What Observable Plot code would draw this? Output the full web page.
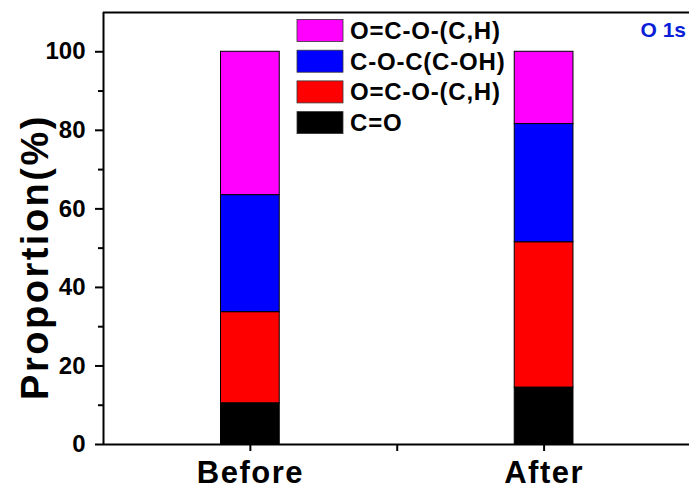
<!DOCTYPE html>
<html>
<head>
<meta charset="utf-8">
<script src="https://cdn.jsdelivr.net/npm/d3@7"></script>
<script src="https://cdn.jsdelivr.net/npm/@observablehq/plot@0.6"></script>
<style>
  html, body { margin: 0; padding: 0; background: #ffffff; }
  svg { display: block; }
</style>
</head>
<body>
<div id="chart"></div>
<script>
// ---- data ----
const samples = ["Before", "After"];
const samplePositions = [1, 3];
const components = ["C=O", "O=C-O-(C,H)", "C-O-C(C-OH)", "O=C-O-(C,H)"];
const componentColors = ["#000000", "#ff0000", "#0000ff", "#ff00ff"];
const beforeValues = [10.5, 23.2, 29.8, 36.5];
const afterValues = [14.5, 37.0, 30.1, 18.4];
const yMajorTicks = [0, 20, 40, 60, 80, 100];
const yMinorTicks = [10, 30, 50, 70, 90];
const xTicks = [1, 2, 3];
const xTickLabels = ["Before", "", "After"];
const yLabel = "Proportion(%)";
const panelTitle = "O 1s";

// ---- build stacked rows ----
const seriesValues = [beforeValues, afterValues];
const rows = [];
samples.forEach((s, i) => {
  let acc = 0;
  seriesValues[i].forEach((v, j) => {
    rows.push({sample: s, pos: samplePositions[i], comp: components[j], color: componentColors[j], y1: acc, y2: acc + v});
    acc += v;
  });
});

const font = "'Liberation Sans', Arial, sans-serif";

const chart = Plot.plot({
  width: 689,
  height: 489,
  marginLeft: 103,
  marginTop: 12,
  marginBottom: 45,
  marginRight: 0,
  style: {fontFamily: font, background: "transparent", color: "#000"},
  x: {domain: [0, 3.99]},
  y: {domain: [0, 110]},
  color: {type: "identity"},
  marks: [
    Plot.rectY(rows, {x1: d => d.pos - 0.2, x2: d => d.pos + 0.2, y1: "y1", y2: "y2", fill: "color", stroke: "#000", strokeWidth: 1}),
    Plot.ruleY([0], {stroke: "#000", strokeWidth: 2}),
    Plot.ruleY([110], {stroke: "#000", strokeWidth: 2}),
    Plot.ruleX([0], {stroke: "#000", strokeWidth: 2}),
    Plot.axisY({ticks: yMajorTicks, tickSize: 8, tickPadding: 10, fontSize: 24, fontWeight: "bold", label: null, strokeWidth: 2}),
    Plot.axisY({ticks: yMinorTicks, tickSize: 5, tickFormat: () => "", label: null, strokeWidth: 2}),
    Plot.axisX({ticks: xTicks, tickSize: 7, tickPadding: 9, fontSize: 31, fontWeight: "bold", label: null, strokeWidth: 2,
      tickFormat: d => xTickLabels[xTicks.indexOf(d)]})
  ]
});

document.getElementById("chart").appendChild(chart);

const svg = d3.select(chart);
// x tick labels slightly wider, like the reference
svg.selectAll("[aria-label='x-axis tick label'] text").attr("letter-spacing", "1.5px");

// ---- y axis title ----
svg.append("text")
  .attr("transform", "translate(35,257) rotate(-90)")
  .attr("text-anchor", "middle")
  .attr("dominant-baseline", "central")
  .attr("font-family", font).attr("font-weight", "bold").attr("font-size", 38)
  .attr("letter-spacing", "2.5px")
  .attr("fill", "#000")
  .text(yLabel);

// ---- panel title ----
svg.append("text")
  .attr("x", 686).attr("y", 37)
  .attr("text-anchor", "end")
  .attr("font-family", font).attr("font-weight", "bold").attr("font-size", 21)
  .attr("fill", "#0a1ed8")
  .text(panelTitle);

// ---- legend (top-down: reversed stacking order) ----
const legend = svg.append("g").attr("font-family", font).attr("font-weight", "bold").attr("font-size", 24)
  .attr("letter-spacing", "0.8px");
const legendItems = components.map((c, i) => ({label: c, color: componentColors[i]})).reverse();
legendItems.forEach((d, i) => {
  const cy = 30.5 + i * 30.7;
  legend.append("rect").attr("x", 297).attr("y", cy - 11).attr("width", 46).attr("height", 22)
    .attr("fill", d.color).attr("stroke", "#333").attr("stroke-width", 0.8);
  legend.append("text").attr("x", 350).attr("y", cy + 8.5).attr("text-anchor", "start").attr("fill", "#000").text(d.label);
});
</script>
</body>
</html>
